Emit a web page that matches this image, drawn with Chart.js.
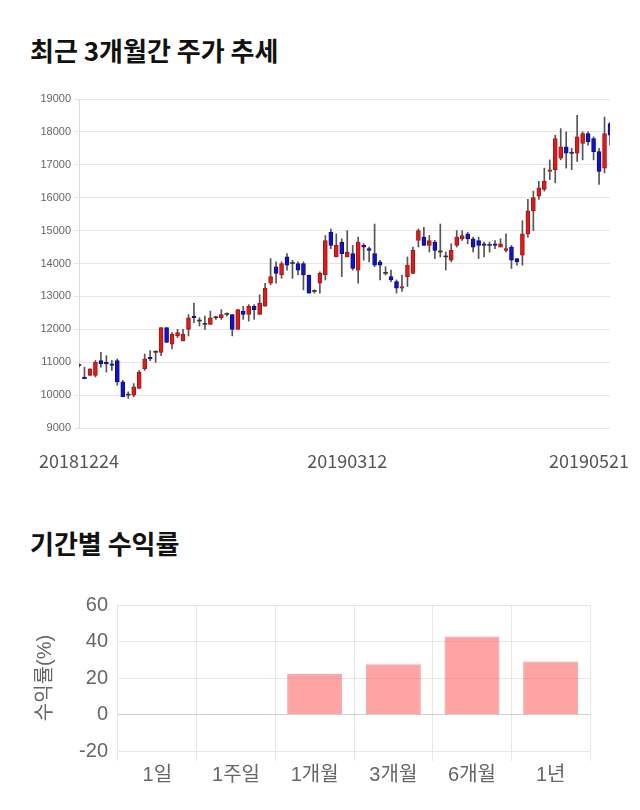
<!DOCTYPE html>
<html><head><meta charset="utf-8">
<script src="https://cdn.jsdelivr.net/npm/chart.js@4.4.0/dist/chart.umd.min.js"></script>
<style>
html,body{margin:0;padding:0;background:#fff;width:640px;height:810px;overflow:hidden;font-family:'Noto Sans CJK KR',sans-serif}
.title{position:absolute;left:30px;font-size:26px;font-weight:bold;color:#111;line-height:1;white-space:nowrap}
#t1{top:37px}
#t2{top:530px}
#c1wrap{position:absolute;left:0;top:0;width:640px;height:480px}
#c2wrap{position:absolute;left:0;top:560px;width:640px;height:250px}
</style></head><body>
<div class="title" id="t1">최근 3개월간 주가 추세</div>
<div class="title" id="t2">기간별 수익률</div>
<div id="c1wrap"><canvas id="c1"></canvas></div>
<div id="c2wrap"><canvas id="c2"></canvas></div>
<script>
const dates = [
 '20181224','20181226','20181227','20181228',
 '20190102','20190103','20190104','20190107','20190108','20190109','20190110','20190111','20190114','20190115','20190116','20190117','20190118','20190121','20190122','20190123','20190124','20190125','20190128','20190129','20190130','20190131',
 '20190201','20190207','20190208','20190211','20190212','20190213','20190214','20190215','20190218','20190219','20190220','20190221','20190222','20190225','20190226','20190227','20190228',
 '20190304','20190305','20190306','20190307','20190308','20190311','20190312','20190313','20190314','20190315','20190318','20190319','20190320','20190321','20190322','20190325','20190326','20190327','20190328','20190329',
 '20190401','20190402','20190403','20190404','20190405','20190408','20190409','20190410','20190411','20190412','20190415','20190416','20190417','20190418','20190419','20190422','20190423','20190424','20190425','20190426','20190429','20190430',
 '20190502','20190503','20190507','20190508','20190509','20190510','20190513','20190514','20190515','20190516','20190517','20190520','20190521'
];
const openP = [
 10900,10550,10600,10600,11050,11000,10950,11050,10400,10000,
 10000,10200,10800,11150,11300,11300,12050,11550,11800,11650,
 12000,12400,12250,12150,12150,12350,12350,12450,12450,12000,
 12550,12450,12700,12450,12700,13400,13900,13650,14200,14000,
 14000,14000,13650,13150,13400,13650,14950,14200,14650,14200,
 14300,13800,14550,14450,14300,14050,13700,13600,13450,13250,
 13600,13700,14700,14800,14550,14650,14350,14200,14100,14550,
 14750,14900,14750,14700,14600,14550,14600,14500,14400,14500,
 14150,14250,14900,15600,16050,16250,16800,16850,17200,17550,
 17350,17350,17650,17950,17800,17400,16900,18250
];
const closeP = [
 10900,10500,10800,11000,10950,10950,10900,10400,9950,10000,
 10250,10700,11100,11100,11300,12050,11600,11850,11900,11850,
 12350,12350,12250,12150,12350,12350,12450,12450,12000,12600,
 12450,12700,12600,12800,13250,13600,13700,14000,13950,14000,
 13800,13650,13100,13150,13700,14700,14550,14550,14300,14350,
 13850,14650,14500,14400,13950,13950,13700,13500,13250,13300,
 13950,14400,15000,14550,14700,14400,14350,14200,14400,14800,
 14850,14750,14500,14550,14550,14550,14550,14600,14450,14100,
 14050,14900,15600,16000,16300,16500,16850,17800,17550,17350,
 17350,17850,17950,17700,17400,16800,17950,17900
];
const highP = [
 10950,10850,10800,11050,11300,11200,11050,11100,10450,10100,
 10350,10750,11250,11350,11350,12050,12050,11900,12000,12000,
 12450,12800,12350,12400,12550,12400,12600,12500,12450,12600,
 12700,12750,12750,13050,13400,14150,14050,14050,14300,14100,
 14050,14050,13650,13200,13750,14850,15050,14900,14750,15000,
 14550,14800,14600,14500,15200,14100,13900,13800,13500,13650,
 14200,14500,15050,15100,14850,14700,15200,14350,14600,15000,
 15000,14950,14800,14800,14650,14650,14700,14750,14900,14550,
 14150,15300,15950,16200,16500,16900,17150,17900,18100,18000,
 17500,18500,18000,18000,17850,17500,18450,18300
];
const lowP = [
 10850,10500,10600,10550,10850,10700,10750,10300,9950,9900,
 9950,10200,10750,11050,11000,11200,11600,11400,11750,11650,
 11800,12200,12100,12000,12150,12300,12300,12400,11800,12000,
 12300,12250,12300,12450,12700,13350,13400,13550,13800,13550,
 13650,13200,13100,13100,13100,13500,14450,14200,13600,14200,
 13800,13400,14100,14050,13900,13500,13650,13450,13100,13150,
 13300,13700,14500,14550,14350,14150,14200,13800,14050,14500,
 14700,14600,14350,14150,14200,14350,14450,14500,14350,13850,
 13950,13950,14800,15000,15950,16200,16550,16450,17150,16900,
 16850,17100,17150,17600,17150,16400,16750,17600
];
const priceTicks = [9000,10000,11000,12000,13000,14000,15000,16000,17000,18000,19000];
const xTickLabels = ['20181224','20190312','20190521'];

const periods = ['1일','1주일','1개월','3개월','6개월','1년'];
const returns = [0, -0.2, 22.3, 27.5, 42.8, 29.0];
const returnTicks = [-20,0,20,40,60];

// ---------- candle chart ----------
const bodyData = openP.map((o,i)=>[o, closeP[i]]);
const wickData = lowP.map((l,i)=>[l, highP[i]]);
const bodyFill = openP.map((o,i)=> closeP[i]>o ? '#d91c1c' : (closeP[i]<o ? '#1212c6' : '#333'));
const bodyLine = openP.map((o,i)=> closeP[i]>o ? '#a81414' : (closeP[i]<o ? '#0c0c8c' : '#333'));
const bodyBW = openP.map((o,i)=> closeP[i]===o ? 0 : 1);

const xLabelPlugin = {
  id:'xLabels',
  afterDraw(chart){
    const ctx = chart.ctx, xs = chart.scales.x;
    ctx.save();
    ctx.font = "18px 'Noto Sans CJK KR', sans-serif";
    ctx.fillStyle = '#555';
    ctx.textBaseline = 'middle';
    ctx.textAlign = 'left';
    xTickLabels.forEach(t=>{
      const i = dates.indexOf(t);
      const w = ctx.measureText(t).width;
      const cx = xs.getPixelForValue(i);
      let left = cx - w/2;
      left = Math.max(38, Math.min(left, chart.width - 11 - w));
      ctx.fillText(t, left, 461);
    });
    ctx.restore();
  }
};

new Chart(document.getElementById('c1'), {
  type:'bar',
  data:{
    labels: dates,
    datasets:[
      {data: bodyData, backgroundColor: bodyFill, borderColor: bodyLine, borderWidth: bodyBW,
       borderSkipped:false, barThickness:4, grouped:false, minBarLength:1, order:1},
      {data: wickData, backgroundColor:'#555', borderWidth:0, barThickness:1, grouped:false, order:2}
    ]
  },
  options:{
    responsive:true, maintainAspectRatio:false, animation:false, events:[],
    layout:{padding:{top:99,right:30,bottom:52,left:0}},
    plugins:{legend:{display:false}, tooltip:{enabled:false}},
    scales:{
      x:{display:false, offset:false},
      y:{min:9000, max:19000,
         afterBuildTicks(s){ s.ticks = priceTicks.map(v=>({value:v})); },
         ticks:{font:{size:11, family:"'Liberation Sans', Arial, sans-serif"}, color:'#666', padding:3,
                callback:(v)=>String(v)},
         grid:{color:'#e6e6e6', tickLength:5},
         border:{color:'#dcdcdc'},
         afterFit(s){ s.width = 79; }
      }
    }
  },
  plugins:[xLabelPlugin]
});

// ---------- returns chart ----------
const fam = "'Liberation Sans', Arial, 'Noto Sans CJK KR', sans-serif";
new Chart(document.getElementById('c2'), {
  type:'bar',
  data:{
    labels: periods,
    datasets:[{
      data: returns,
      backgroundColor: returns.map(v=> v>=0 ? 'rgba(255,99,99,0.58)' : 'rgba(90,130,220,0.5)'),
      borderColor: returns.map(v=> v>=0 ? 'rgba(220,100,100,0.55)' : 'rgba(90,130,200,0.6)'),
      borderWidth:1, borderSkipped:false,
      categoryPercentage:1, barPercentage:0.7
    }]
  },
  options:{
    responsive:true, maintainAspectRatio:false, animation:false, events:[],
    layout:{padding:{top:45,right:50,bottom:0,left:0}},
    plugins:{legend:{display:false}, tooltip:{enabled:false}},
    scales:{
      x:{
        grid:{color: c => (c.index >= periods.length) ? 'rgba(0,0,0,0)' : '#e6e6e6', tickLength:10, offset:true},
        border:{color:'#e6e6e6'},
        ticks:{font:{size:20, family:fam}, color:'#666', padding:2},
        afterFit(s){ s.height = 59; }
      },
      y:{min:-20, max:60,
        afterBuildTicks(s){ s.ticks = returnTicks.map(v=>({value:v})); },
        ticks:{font:{size:20, family:fam}, color:'#666', padding:10},
        grid:{drawTicks:false, color: c => (c.tick && c.tick.value===0) ? '#cfcfcf' : '#e6e6e6'},
        border:{display:false},
        title:{display:true, text:'수익률(%)', font:{size:20, family:fam}, color:'#666', padding:{top:33,bottom:0}},
        afterFit(s){ s.width = 118; }
      }
    }
  }
});
</script>
</body></html>
